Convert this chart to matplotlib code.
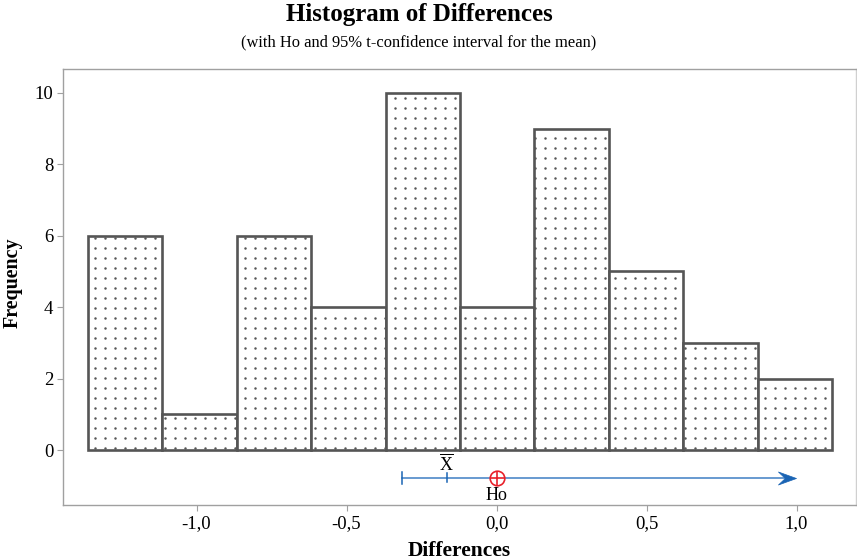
import matplotlib as mpl
mpl.use('Agg')
import matplotlib.pyplot as plt
from matplotlib.path import Path
import numpy as np

plt.rcParams['font.family'] = ['Liberation Serif', 'DejaVu Serif']
plt.rcParams['mathtext.fontset'] = 'custom'
plt.rcParams['mathtext.rm'] = 'Liberation Serif'

# histogram of differences
bin_edges = [-1.362, -1.114, -0.866, -0.618, -0.370, -0.122, 0.126, 0.374, 0.622, 0.870, 1.118]
counts = [6, 1, 6, 4, 10, 4, 9, 5, 3, 2]

# mean and 95% confidence interval (upper end drawn as an arrow)
ci_low = -0.316
x_mean = -0.166
ci_arrow_end = 0.997
h0 = 0.0

x_ticks = [-1.0, -0.5, 0.0, 0.5, 1.0]
y_ticks = [0, 2, 4, 6, 8, 10]

fig = plt.figure(figsize=(8.57, 5.6), dpi=100)
ax = fig.add_axes([63 / 857, 55 / 560, 793 / 857, 436 / 560])

edges = np.array(bin_edges)
widths = np.diff(edges)
ax.bar(edges[:-1], counts, width=widths, align='edge', facecolor='white',
       edgecolor='#555555', linewidth=1.9, zorder=3)

# dotted fill inside the bars
gx = np.arange(-1.445 + 0.008, 1.2, 10 / 300)
gy = np.arange(0.05, 11, 10 / 35.7)
X, Y = np.meshgrid(gx, gy)
X, Y = X.ravel(), Y.ravel()
idx = np.searchsorted(edges, X) - 1
ok = (idx >= 0) & (idx < len(counts))
inside = np.zeros_like(ok)
inside[ok] = Y[ok] < np.array(counts)[idx[ok]] - 0.05
ax.scatter(X[inside], Y[inside], s=3.2, color='#585858', linewidths=0, zorder=4)

# confidence interval
blue = '#1a64b4'
ci_y = -0.776
ax.plot([ci_low, ci_arrow_end - 0.02], [ci_y, ci_y], color='#3f7fc4', lw=1.1, zorder=5)
head = Path([(0, 0), (-1, 0.36), (-0.62, 0), (-1, -0.36), (0, 0)],
            [Path.MOVETO, Path.LINETO, Path.LINETO, Path.LINETO, Path.CLOSEPOLY])
ax.plot([ci_arrow_end], [ci_y], marker=head, ms=26, mfc=blue, mec=blue, mew=0.5, zorder=6)
ax.plot([ci_low, ci_low], [ci_y - 0.17, ci_y + 0.17], color=blue, lw=1.1, zorder=5)
ax.plot([x_mean, x_mean], [ci_y - 0.12, ci_y + 0.12], color=blue, lw=1.1, zorder=5)
ax.plot([h0], [ci_y], marker='o', ms=10.5, mfc='white', mec='#e8202a', mew=1.2, zorder=6)
ax.plot([h0], [ci_y], marker='+', ms=10.5, mec='#e8202a', mew=1.2, zorder=7)
ax.text(x_mean, ci_y + 0.22, r'$\overline{\mathrm{X}}$', ha='center', va='baseline',
        fontsize=13, zorder=8)
ax.text(h0, ci_y - 0.27, 'Ho', ha='center', va='top', fontsize=13)

ax.set_xlim(-1.445, 1.198)
ax.set_ylim(-1.54, 10.67)
ax.set_xticks(x_ticks)
ax.set_xticklabels([f'{v:.1f}'.replace('.', ',') for v in x_ticks])
ax.set_yticks(y_ticks)
ax.tick_params(direction='out', length=4, color='#a0a0a0', labelsize=13.5, pad=3)
for s in ax.spines.values():
    s.set_color('#a0a0a0')
    s.set_linewidth(1)
ax.spines['right'].set_color('#d0d0d0')

ax.set_xlabel('Differences', fontsize=15.5, fontweight='bold', labelpad=7)
ax.set_ylabel('Frequency', fontsize=14.4, fontweight='bold')
ax.yaxis.set_label_coords(-0.0504, 0.509)

fig.text(419 / 857, 1 - 15 / 560, 'Histogram of Differences', ha='center', va='center',
         fontsize=18, fontweight='bold')
fig.text(419 / 857, 1 - 42 / 560, '(with Ho and 95% t-confidence interval for the mean)',
         ha='center', va='center', fontsize=11.9)

fig.savefig('out.png', dpi=100)
